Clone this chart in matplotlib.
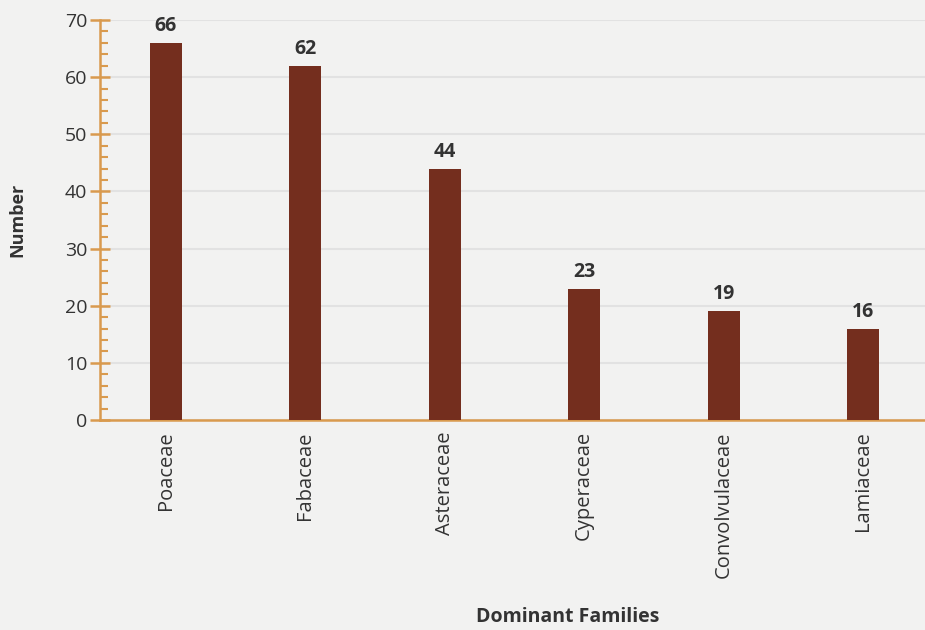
import matplotlib.pyplot as plt
from matplotlib.ticker import MultipleLocator

families = ["Poaceae", "Fabaceae", "Asteraceae", "Cyperaceae", "Convolvulaceae", "Lamiaceae"]
counts = [66, 62, 44, 23, 19, 16]
y_ticks = [0, 10, 20, 30, 40, 50, 60, 70]

bar_color = "#742E1E"
axis_color = "#D99A4E"
text_color = "#333333"

plt.rcParams["font.family"] = ["Open Sans", "DejaVu Sans"]

fig = plt.figure(figsize=(9.25, 6.3), dpi=100)
fig.patch.set_facecolor("#F2F2F1")
ax = fig.add_axes([0.1081, 0.3333, 0.8919, 0.635])
ax.set_facecolor("none")

x = range(len(families))
ax.bar(x, counts, width=0.23, color=bar_color, zorder=3)

for xi, c in zip(x, counts):
    ax.annotate(str(c), (xi, c), xytext=(0, 5), textcoords="offset points",
                ha="center", va="bottom", fontsize=14, fontweight="bold",
                color=text_color, zorder=4)

ax.set_xlim(-0.473, 5.445)
ax.set_ylim(0, 70)
ax.set_yticks(y_ticks)
ax.yaxis.set_minor_locator(MultipleLocator(2))
ax.set_xticks(list(x))
ax.set_xticklabels(families, rotation=90, fontsize=14.5, color=text_color)

ax.grid(axis="y", color="#E2E2E2", linewidth=1.5, zorder=0)
for s in ["top", "right"]:
    ax.spines[s].set_visible(False)
for s in ["left", "bottom"]:
    ax.spines[s].set_color(axis_color)
    ax.spines[s].set_linewidth(1.8)

ax.tick_params(axis="y", which="major", direction="inout", length=14, width=1.8,
               color=axis_color, labelsize=14, labelcolor=text_color, pad=2)
ax.tick_params(axis="y", which="minor", direction="in", length=6, width=1.5,
               color=axis_color)
ax.tick_params(axis="x", length=0, pad=8)

fig.text(0.019, 0.651, "Number", rotation=90, ha="center", va="center",
         fontsize=13, fontweight="bold", color=text_color)
fig.text(0.614, 0.021, "Dominant Families", ha="center", va="center",
         fontsize=14, fontweight="bold", color=text_color)

fig.savefig("out.png", dpi=100, facecolor=fig.get_facecolor())
